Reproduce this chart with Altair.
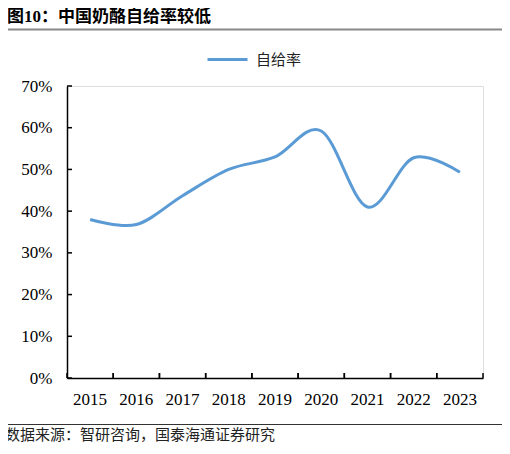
import altair as alt
import pandas as pd

# 中国奶酪自给率（读图估值）
years = ["2015", "2016", "2017", "2018", "2019", "2020", "2021", "2022", "2023"]
self_rate = [0.380, 0.368, 0.437, 0.500, 0.530, 0.592, 0.410, 0.528, 0.493]
y_ticks = [0.0, 0.1, 0.2, 0.3, 0.4, 0.5, 0.6, 0.7]

TITLE = "图10：中国奶酪自给率较低"
SOURCE = "数据来源：智研咨询，国泰海通证券研究"
SERIES = "自给率"

BLUE = "#5B9BD5"
SERIF = "Liberation Serif, Noto Sans CJK SC"
CJK = "Noto Sans CJK SC"

W, H = 416, 292

df = pd.DataFrame({"year": years, "rate": self_rate, "series": SERIES})
ticks_df = pd.DataFrame({"tick": y_ticks})

x_axis = alt.Axis(
    title=None, labelAngle=0, ticks=False, tickSize=0, labelPadding=13, bandPosition=0.5,
    labelFont=SERIF, labelFontSize=17, labelColor="black",
    domainColor="black", domainWidth=1.5,
)
x_scale = alt.Scale(type="band", paddingInner=0, paddingOuter=0)
y_scale = alt.Scale(domain=[0, 0.7], nice=False)

line = alt.Chart(df).mark_line(interpolate="cardinal", strokeWidth=3).encode(
    x=alt.X("year:O", bandPosition=0.5, scale=x_scale, axis=x_axis),
    y=alt.Y(
        "rate:Q",
        scale=y_scale,
        axis=alt.Axis(
            title=None, values=y_ticks, format=".0%", ticks=False, tickSize=0,
            labelPadding=15, labelFont=SERIF, labelFontSize=17, labelColor="black",
            domainColor="black", domainWidth=1.5, grid=False,
        ),
    ),
    color=alt.Color(
        "series:N",
        scale=alt.Scale(range=[BLUE]),
        legend=alt.Legend(
            title=None, orient="none", legendX=139, legendY=-48,
            symbolType="stroke", symbolSize=1600, symbolStrokeWidth=3,
            labelFont=CJK, labelFontSize=15, labelColor="#222", labelOffset=7,
        ),
    ),
)

# 向内的刻度线
y_tick_marks = alt.Chart(ticks_df).mark_rule(color="black", strokeWidth=1.5).encode(
    y=alt.Y("tick:Q", scale=y_scale), x=alt.value(0), x2=alt.value(5)
)
x_tick_left = alt.Chart(df).mark_rule(color="black", strokeWidth=1.5).encode(
    x=alt.X("year:O", bandPosition=0, scale=x_scale, axis=x_axis),
    y=alt.value(H), y2=alt.value(H - 5),
)
x_tick_right = alt.Chart(df).mark_rule(color="black", strokeWidth=1.5).encode(
    x=alt.X("year:O", bandPosition=1, scale=x_scale, axis=x_axis),
    y=alt.value(H), y2=alt.value(H - 5),
)

# 标题、分隔线、数据来源
title = alt.Chart(pd.DataFrame({"t": [TITLE]})).mark_text(
    font=SERIF, fontSize=17, fontWeight="bold", align="left", baseline="middle", color="black"
).encode(text="t:N", x=alt.value(-60), y=alt.value(-69))
title_rule = alt.Chart(pd.DataFrame({"t": [0]})).mark_rule(color="#888888", strokeWidth=2).encode(
    x=alt.value(-62), x2=alt.value(437), y=alt.value(-56.5)
)
source_rule = alt.Chart(pd.DataFrame({"t": [0]})).mark_rule(color="#333333", strokeWidth=1).encode(
    x=alt.value(-62), x2=alt.value(437), y=alt.value(338.5)
)
source = alt.Chart(pd.DataFrame({"t": [SOURCE]})).mark_text(
    font=CJK, fontSize=15, align="left", baseline="middle", color="#222"
).encode(text="t:N", x=alt.value(-62), y=alt.value(349))

chart = alt.layer(
    y_tick_marks, x_tick_left, x_tick_right, line, title, title_rule, source_rule, source
).properties(
    width=W,
    height=H,
    autosize=alt.AutoSizeParams(type="none"),
    padding={"left": 59, "top": 78, "right": 19, "bottom": 68},
).configure_view(stroke=None).configure(background="white")

chart.save("out.html", embed_options={"renderer": "svg", "actions": False})
